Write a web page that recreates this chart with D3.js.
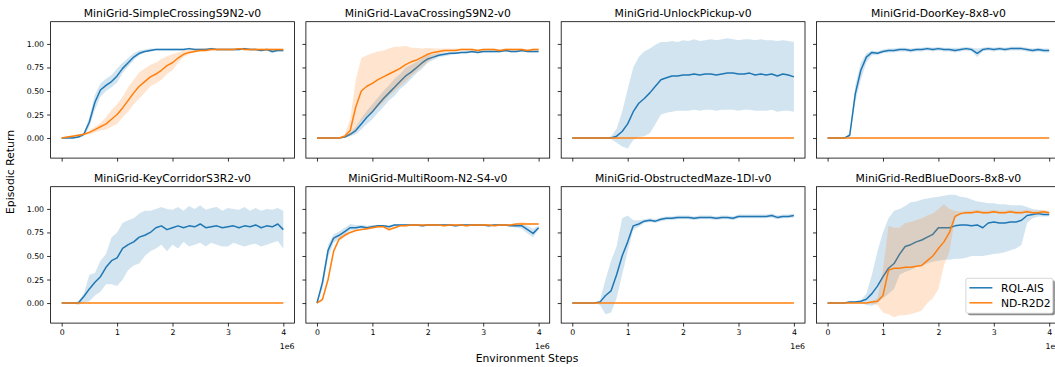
<!DOCTYPE html>
<html>
<head>
<meta charset="utf-8">
<script src="https://cdn.jsdelivr.net/npm/d3@7"></script>
<style>
  body { margin: 0; background: #fff; }
  svg { display: block; font-family: "DejaVu Sans", sans-serif; }
</style>
</head>
<body>
<svg id="chart" width="1055" height="367"></svg>
<script>
// x positions (millions of environment steps)
const steps = [0,0.1,0.2,0.3,0.4,0.5,0.6,0.7,0.8,0.9,1.0,1.1,1.2,1.3,1.4,1.5,1.6,1.7,1.8,1.9,2.0,
  2.1,2.2,2.3,2.4,2.5,2.6,2.7,2.8,2.9,3.0,3.1,3.2,3.3,3.4,3.5,3.6,3.7,3.8,3.9,4.0];

const titles = ["MiniGrid-SimpleCrossingS9N2-v0", "MiniGrid-LavaCrossingS9N2-v0", "MiniGrid-UnlockPickup-v0",
  "MiniGrid-DoorKey-8x8-v0", "MiniGrid-KeyCorridorS3R2-v0", "MiniGrid-MultiRoom-N2-S4-v0",
  "MiniGrid-ObstructedMaze-1Dl-v0", "MiniGrid-RedBlueDoors-8x8-v0"];
const seriesNames = ["RQL-AIS", "ND-R2D2"];
const xTicks = [0, 1, 2, 3, 4];
const yTicks = [0, 0.25, 0.5, 0.75, 1.0];

const noReturn = [0,0,0,0,0,0,0,0,0,0,0,0,0,0,0,0,0,0,0,0,0,0,0,0,0,0,0,0,0,0,0,0,0,0,0,0,0,0,0,0,0];

// SimpleCrossing
const scRqlMean = [0,0,0,0.01,0.04,0.17,0.38,0.51,0.56,0.60,0.66,0.74,0.80,0.86,0.90,0.92,0.93,0.94,0.94,0.94,0.94,0.94,0.94,0.95,0.94,0.94,0.94,0.95,0.94,0.94,0.94,0.94,0.94,0.95,0.94,0.94,0.93,0.94,0.92,0.93,0.93];
const scRqlLo = [0,0,0,0,0.02,0.12,0.30,0.44,0.50,0.54,0.59,0.69,0.76,0.83,0.88,0.91,0.92,0.93,0.93,0.93,0.93,0.93,0.93,0.94,0.93,0.93,0.93,0.94,0.93,0.93,0.93,0.93,0.93,0.94,0.93,0.93,0.92,0.93,0.90,0.92,0.92];
const scRqlHi = [0,0.01,0.01,0.02,0.06,0.22,0.46,0.58,0.63,0.67,0.74,0.80,0.85,0.90,0.93,0.94,0.95,0.95,0.95,0.95,0.95,0.95,0.95,0.96,0.95,0.95,0.95,0.96,0.95,0.95,0.95,0.95,0.95,0.96,0.95,0.95,0.94,0.95,0.94,0.94,0.94];
const scNdMean = [0,0.01,0.02,0.03,0.04,0.06,0.09,0.12,0.15,0.20,0.25,0.32,0.40,0.48,0.55,0.60,0.65,0.68,0.72,0.77,0.80,0.85,0.89,0.91,0.92,0.93,0.93,0.94,0.94,0.94,0.94,0.94,0.95,0.94,0.94,0.94,0.94,0.94,0.94,0.94,0.94];
const scNdLo = [0,0,0.01,0.02,0.03,0.04,0.06,0.08,0.09,0.12,0.15,0.22,0.28,0.36,0.42,0.48,0.55,0.58,0.62,0.68,0.72,0.80,0.86,0.89,0.91,0.92,0.92,0.93,0.93,0.93,0.93,0.93,0.94,0.93,0.93,0.93,0.93,0.93,0.93,0.93,0.93];
const scNdHi = [0,0.02,0.03,0.04,0.05,0.08,0.12,0.16,0.22,0.30,0.36,0.44,0.54,0.62,0.70,0.74,0.78,0.80,0.84,0.87,0.89,0.91,0.93,0.94,0.94,0.95,0.95,0.95,0.95,0.95,0.95,0.95,0.96,0.95,0.95,0.95,0.95,0.95,0.95,0.95,0.95];

// LavaCrossing
const lcRqlMean = [0,0,0,0,0,0.01,0.04,0.08,0.15,0.22,0.28,0.35,0.42,0.48,0.54,0.60,0.66,0.70,0.75,0.80,0.84,0.86,0.88,0.89,0.90,0.90,0.91,0.91,0.92,0.91,0.92,0.92,0.92,0.92,0.93,0.92,0.92,0.93,0.92,0.92,0.92];
const lcRqlLo = [0,0,0,0,0,0,0.02,0.04,0.09,0.15,0.20,0.27,0.33,0.40,0.45,0.52,0.57,0.63,0.69,0.74,0.80,0.83,0.86,0.87,0.88,0.89,0.90,0.90,0.91,0.90,0.91,0.91,0.91,0.91,0.92,0.91,0.91,0.92,0.91,0.91,0.91];
const lcRqlHi = [0,0,0,0,0,0.02,0.06,0.12,0.21,0.29,0.36,0.43,0.50,0.56,0.63,0.68,0.75,0.78,0.81,0.85,0.88,0.89,0.90,0.91,0.91,0.92,0.92,0.93,0.93,0.92,0.93,0.93,0.93,0.93,0.94,0.93,0.93,0.94,0.93,0.93,0.93];
const lcNdMean = [0,0,0,0,0,0.02,0.08,0.33,0.50,0.55,0.58,0.62,0.65,0.68,0.71,0.74,0.78,0.81,0.83,0.86,0.89,0.91,0.92,0.93,0.93,0.93,0.94,0.94,0.94,0.93,0.94,0.94,0.94,0.93,0.94,0.94,0.94,0.94,0.93,0.94,0.94];
const lcNdLo = [0,0,0,0,0,0.01,0.03,0.10,0.18,0.24,0.28,0.33,0.38,0.45,0.50,0.55,0.60,0.66,0.71,0.76,0.81,0.86,0.89,0.91,0.92,0.92,0.93,0.93,0.93,0.92,0.93,0.93,0.93,0.92,0.93,0.93,0.93,0.93,0.92,0.93,0.93];
const lcNdHi = [0,0,0,0,0,0.04,0.20,0.62,0.85,0.88,0.90,0.92,0.93,0.95,0.97,0.97,0.98,0.96,0.96,0.95,0.96,0.95,0.95,0.95,0.95,0.95,0.95,0.95,0.95,0.94,0.95,0.95,0.95,0.94,0.95,0.95,0.95,0.95,0.94,0.95,0.95];

// UnlockPickup
const upRqlMean = [0,0,0,0,0,0,0,0,0.02,0.07,0.15,0.28,0.37,0.42,0.48,0.55,0.62,0.64,0.66,0.66,0.67,0.67,0.68,0.67,0.68,0.68,0.67,0.68,0.69,0.69,0.68,0.68,0.69,0.67,0.68,0.67,0.68,0.66,0.68,0.67,0.65];
const upRqlLo = [0,0,0,0,0,0,0,-0.01,-0.05,-0.09,-0.11,-0.02,0.01,0.02,0.05,0.15,0.25,0.27,0.28,0.29,0.29,0.29,0.30,0.29,0.30,0.30,0.29,0.30,0.30,0.30,0.29,0.30,0.30,0.29,0.29,0.29,0.30,0.28,0.29,0.29,0.28];
const upRqlHi = [0,0,0,0,0,0,0,0.02,0.10,0.28,0.52,0.75,0.86,0.92,0.95,0.99,1.02,1.02,1.03,1.02,1.04,1.03,1.05,1.03,1.04,1.05,1.04,1.05,1.06,1.05,1.04,1.05,1.05,1.04,1.05,1.04,1.04,1.03,1.04,1.03,1.02];

// DoorKey
const dkRqlMean = [0,0,0,0,0.03,0.47,0.72,0.86,0.91,0.90,0.92,0.93,0.93,0.94,0.94,0.93,0.94,0.94,0.95,0.94,0.95,0.94,0.94,0.93,0.94,0.95,0.94,0.90,0.94,0.95,0.94,0.95,0.94,0.95,0.95,0.95,0.94,0.93,0.94,0.93,0.93];
const dkRqlLo = [0,0,0,0,0.01,0.38,0.62,0.80,0.88,0.88,0.90,0.91,0.91,0.92,0.92,0.91,0.92,0.92,0.93,0.92,0.93,0.92,0.92,0.91,0.92,0.93,0.92,0.86,0.92,0.93,0.92,0.93,0.92,0.93,0.93,0.93,0.92,0.91,0.92,0.91,0.91];
const dkRqlHi = [0,0,0,0,0.05,0.56,0.80,0.90,0.93,0.92,0.94,0.95,0.95,0.96,0.96,0.95,0.96,0.96,0.97,0.96,0.97,0.96,0.96,0.96,0.96,0.97,0.96,0.95,0.96,0.97,0.96,0.97,0.96,0.97,0.97,0.97,0.96,0.95,0.96,0.95,0.95];

// KeyCorridor
const kcRqlMean = [0,0,0,0,0.07,0.15,0.22,0.28,0.38,0.45,0.48,0.58,0.62,0.65,0.70,0.72,0.75,0.80,0.82,0.78,0.80,0.82,0.80,0.82,0.81,0.84,0.80,0.81,0.82,0.80,0.81,0.82,0.80,0.82,0.81,0.83,0.80,0.82,0.81,0.84,0.78];
const kcRqlLo = [0,0,0,-0.02,0,0.02,0.08,0.12,0.20,0.20,0.18,0.25,0.35,0.40,0.42,0.50,0.55,0.58,0.62,0.55,0.62,0.58,0.65,0.60,0.62,0.64,0.60,0.64,0.62,0.60,0.60,0.64,0.62,0.60,0.62,0.63,0.60,0.62,0.64,0.66,0.58];
const kcRqlHi = [0,0,0,0.02,0.10,0.30,0.32,0.45,0.52,0.70,0.75,0.85,0.88,0.90,0.95,0.98,0.98,1.00,1.02,1.00,0.99,1.02,0.98,1.03,1.00,1.04,0.99,1.01,1.02,0.98,1.01,1.00,0.99,1.02,0.98,1.01,0.98,1.00,0.99,1.01,0.98];

// MultiRoom
const mrRqlMean = [0,0.22,0.56,0.69,0.72,0.76,0.80,0.80,0.81,0.80,0.81,0.82,0.82,0.81,0.83,0.83,0.83,0.83,0.83,0.82,0.83,0.83,0.83,0.83,0.83,0.82,0.83,0.83,0.83,0.83,0.83,0.82,0.83,0.83,0.83,0.82,0.82,0.82,0.78,0.74,0.80];
const mrRqlLo = [0,0.15,0.48,0.64,0.68,0.72,0.77,0.78,0.79,0.78,0.80,0.81,0.81,0.80,0.82,0.82,0.82,0.82,0.82,0.81,0.82,0.82,0.82,0.82,0.82,0.81,0.82,0.82,0.82,0.82,0.82,0.81,0.82,0.82,0.82,0.81,0.80,0.79,0.74,0.70,0.78];
const mrRqlHi = [0,0.28,0.62,0.73,0.76,0.80,0.84,0.83,0.83,0.82,0.83,0.83,0.83,0.82,0.84,0.84,0.84,0.84,0.84,0.83,0.84,0.84,0.84,0.84,0.84,0.83,0.84,0.84,0.84,0.84,0.84,0.83,0.84,0.84,0.84,0.83,0.83,0.84,0.82,0.79,0.82];
const mrNdMean = [0,0.04,0.25,0.55,0.68,0.72,0.75,0.77,0.78,0.79,0.80,0.81,0.81,0.78,0.80,0.82,0.82,0.83,0.83,0.83,0.83,0.83,0.83,0.82,0.83,0.83,0.83,0.82,0.83,0.83,0.83,0.83,0.82,0.83,0.83,0.83,0.84,0.84,0.84,0.84,0.84];
const mrNdLo = [0,0.02,0.22,0.52,0.66,0.70,0.74,0.76,0.77,0.78,0.79,0.80,0.80,0.76,0.79,0.81,0.81,0.82,0.82,0.82,0.82,0.82,0.82,0.81,0.82,0.82,0.82,0.81,0.82,0.82,0.82,0.82,0.81,0.82,0.82,0.82,0.83,0.83,0.83,0.83,0.83];
const mrNdHi = [0,0.06,0.28,0.58,0.70,0.74,0.76,0.78,0.79,0.80,0.81,0.82,0.82,0.80,0.81,0.83,0.83,0.84,0.84,0.84,0.84,0.84,0.84,0.83,0.84,0.84,0.84,0.83,0.84,0.84,0.84,0.84,0.83,0.84,0.84,0.84,0.85,0.86,0.85,0.85,0.85];

// ObstructedMaze
const omRqlMean = [0,0,0,0,0,0.01,0.08,0.13,0.30,0.50,0.65,0.82,0.84,0.87,0.88,0.87,0.89,0.90,0.90,0.91,0.91,0.91,0.90,0.91,0.91,0.91,0.90,0.91,0.91,0.90,0.92,0.92,0.92,0.92,0.92,0.92,0.93,0.91,0.92,0.92,0.93];
const omRqlLo = [0,0,0,0,0,-0.02,-0.12,-0.10,0.05,0.30,0.55,0.78,0.81,0.85,0.86,0.85,0.87,0.88,0.88,0.89,0.89,0.89,0.88,0.89,0.89,0.89,0.88,0.89,0.89,0.88,0.90,0.90,0.90,0.90,0.90,0.90,0.91,0.89,0.90,0.90,0.91];
const omRqlHi = [0,0,0,0,0,0.03,0.25,0.45,0.60,0.90,0.93,0.88,0.88,0.89,0.90,0.89,0.91,0.92,0.92,0.93,0.93,0.93,0.92,0.93,0.93,0.93,0.92,0.93,0.93,0.92,0.94,0.94,0.94,0.94,0.94,0.94,0.95,0.93,0.94,0.94,0.95];

// RedBlueDoors
const rbRqlMean = [0,0,0,0,0.01,0.01,0.02,0.04,0.10,0.18,0.28,0.37,0.42,0.52,0.60,0.62,0.65,0.67,0.70,0.73,0.80,0.80,0.80,0.82,0.83,0.83,0.82,0.83,0.80,0.85,0.86,0.85,0.85,0.86,0.86,0.88,0.93,0.94,0.95,0.94,0.94];
const rbRqlLo = [0,0,0,0,0,0,0,-0.02,-0.03,0,0.05,0.10,0.15,0.30,0.33,0.35,0.38,0.40,0.42,0.44,0.45,0.46,0.46,0.47,0.47,0.48,0.50,0.50,0.50,0.51,0.52,0.53,0.54,0.56,0.58,0.62,0.85,0.90,0.92,0.92,0.92];
const rbRqlHi = [0,0,0,0,0.02,0.02,0.03,0.10,0.30,0.55,0.75,0.90,0.98,1.00,1.03,1.07,1.08,1.10,1.11,1.12,1.13,1.14,1.15,1.15,1.13,1.12,1.10,1.08,1.07,1.06,1.06,1.05,1.05,1.04,1.04,1.04,1.02,1.00,0.99,0.98,0.97];
const rbNdMean = [0,0,0,0,0,0,0,0,0.01,0.02,0.08,0.35,0.37,0.37,0.38,0.38,0.39,0.40,0.45,0.50,0.58,0.65,0.75,0.92,0.95,0.96,0.96,0.97,0.96,0.96,0.97,0.96,0.96,0.97,0.96,0.96,0.97,0.96,0.96,0.97,0.96];
const rbNdLo = [0,0,0,0,0,0,0,0,-0.01,-0.02,-0.10,-0.12,-0.15,-0.13,-0.13,-0.12,-0.10,-0.08,0.00,0.05,0.15,0.40,0.55,0.90,0.94,0.95,0.95,0.96,0.95,0.95,0.96,0.95,0.95,0.96,0.95,0.95,0.96,0.95,0.95,0.96,0.95];
const rbNdHi = [0,0,0,0,0,0,0,0,0.02,0.05,0.35,0.82,0.80,0.80,0.85,0.86,0.88,0.90,0.93,0.95,1.00,1.05,1.00,0.98,0.97,0.98,0.98,0.99,0.98,0.98,0.99,0.98,0.98,0.99,0.98,0.98,0.99,0.98,0.98,0.99,0.98];

// per panel: [rql mean, lo, hi], [nd mean, lo, hi]
const panels = [
  [[scRqlMean, scRqlLo, scRqlHi], [scNdMean, scNdLo, scNdHi]],
  [[lcRqlMean, lcRqlLo, lcRqlHi], [lcNdMean, lcNdLo, lcNdHi]],
  [[upRqlMean, upRqlLo, upRqlHi], [noReturn, noReturn, noReturn]],
  [[dkRqlMean, dkRqlLo, dkRqlHi], [noReturn, noReturn, noReturn]],
  [[kcRqlMean, kcRqlLo, kcRqlHi], [noReturn, noReturn, noReturn]],
  [[mrRqlMean, mrRqlLo, mrRqlHi], [mrNdMean, mrNdLo, mrNdHi]],
  [[omRqlMean, omRqlLo, omRqlHi], [noReturn, noReturn, noReturn]],
  [[rbRqlMean, rbRqlLo, rbRqlHi], [rbNdMean, rbNdLo, rbNdHi]]
];

const colors = ["#1f77b4", "#ff7f0e"];

// layout
const left0 = 50.6, pitch = 255.3, pw = 243.8;
const rowTop = [21.7, 186.7], ph = 136.4;
const tickFont = "7.8px", labelFont = "10.8px";

const svg = d3.select("#chart");

const x = d3.scaleLinear().domain([-0.2, 4.2]).range([0, pw]);
const y = d3.scaleLinear().domain([-0.213, 1.236]).range([ph, 0]);

panels.forEach((p, i) => {
  const col = i % 4, row = Math.floor(i / 4);
  const g = svg.append("g")
    .attr("transform", "translate(" + (left0 + col * pitch) + "," + rowTop[row] + ")");

  p.forEach((s, k) => {
    const pts = steps.map((t, j) => ({ t: t, m: s[0][j], lo: s[1][j], hi: s[2][j] }));
    g.append("path")
      .datum(pts)
      .attr("fill", colors[k])
      .attr("fill-opacity", 0.2)
      .attr("d", d3.area().x(d => x(d.t)).y0(d => y(d.lo)).y1(d => y(d.hi)));
    g.append("path")
      .datum(pts)
      .attr("fill", "none")
      .attr("stroke", colors[k])
      .attr("stroke-width", 1.5)
      .attr("stroke-linejoin", "round")
      .attr("d", d3.line().x(d => x(d.t)).y(d => y(d.m)));
  });

  // x axis
  const xa = g.append("g")
    .attr("transform", "translate(0," + ph + ")")
    .call(d3.axisBottom(x).tickValues(xTicks).tickSize(3.5).tickPadding(3).tickSizeOuter(0)
      .tickFormat(row === 1 ? d3.format("d") : ""));
  // y axis
  const ya = g.append("g")
    .call(d3.axisLeft(y).tickValues(yTicks).tickSize(3.5).tickPadding(3).tickSizeOuter(0)
      .tickFormat(col === 0 ? d3.format(".2f") : ""));
  [xa, ya].forEach(a => {
    a.select(".domain").remove();
    a.selectAll("line").attr("stroke", "#000").attr("stroke-width", 0.8);
    a.selectAll("text").attr("fill", "#000").style("font-size", tickFont).style("font-family", "DejaVu Sans");
  });

  g.append("rect")
    .attr("width", pw).attr("height", ph)
    .attr("fill", "none").attr("stroke", "#000").attr("stroke-width", 0.8);

  g.append("text")
    .attr("x", pw / 2).attr("y", -5)
    .attr("text-anchor", "middle")
    .style("font-size", labelFont)
    .text(titles[i]);

  if (row === 1) {
    g.append("text")
      .attr("x", pw).attr("y", ph + 26)
      .attr("text-anchor", "end")
      .style("font-size", tickFont)
      .text("1e6");
  }

  // legend in last panel
  if (i === 7) {
    const lx = 149.4, ly = 91.6, lw = 87, lh = 35;
    const lg = g.append("g").attr("transform", "translate(" + lx + "," + ly + ")");
    lg.append("rect").attr("x", 2).attr("y", 2).attr("width", lw).attr("height", lh)
      .attr("rx", 2).attr("fill", "#000").attr("fill-opacity", 0.45);
    lg.append("rect").attr("width", lw).attr("height", lh).attr("rx", 2)
      .attr("fill", "#fff").attr("stroke", "#cccccc").attr("stroke-width", 0.8);
    seriesNames.forEach((n, k) => {
      const yy = 9.5 + k * 15;
      lg.append("line").attr("x1", 3.5).attr("x2", 26.5).attr("y1", yy).attr("y2", yy)
        .attr("stroke", colors[k]).attr("stroke-width", 1.5);
      lg.append("text").attr("x", 35).attr("y", yy + 3.9)
        .style("font-size", labelFont).text(n);
    });
  }
});

svg.append("text")
  .attr("x", 527).attr("y", 362)
  .attr("text-anchor", "middle")
  .style("font-size", labelFont)
  .text("Environment Steps");

svg.append("text")
  .attr("transform", "translate(14,172) rotate(-90)")
  .attr("text-anchor", "middle")
  .style("font-size", labelFont)
  .text("Episodic Return");
</script>
</body>
</html>
